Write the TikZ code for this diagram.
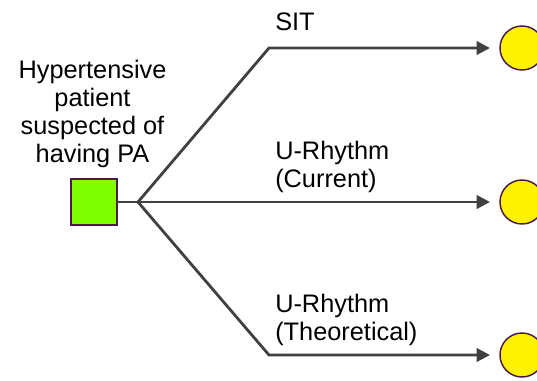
\documentclass[tikz,border=0pt]{standalone}
\usepackage{fontspec}
\setmainfont{Liberation Sans}
\usetikzlibrary{arrows.meta}
\definecolor{edgegray}{HTML}{404040}
\definecolor{boxgreen}{HTML}{80FF00}
\definecolor{rim}{HTML}{4B1A4B}
\begin{document}
\begin{tikzpicture}[x=0.75pt,y=-0.75pt,
  lbl/.style={font=\fontsize{19}{21}\selectfont, inner sep=0pt, align=left},
  decision/.style={draw=rim, line width=1.4pt, fill=boxgreen, minimum size=34.5pt, inner sep=0pt, outer sep=0pt},
  chance/.style={circle, draw=rim, line width=1.1pt, fill=yellow, minimum size=33pt, inner sep=0pt, outer sep=0pt},
  branch/.style={draw=edgegray, line width=2.1pt, line join=miter},
  arr/.style={branch, -{Triangle[length=10pt,width=10pt]}, shorten >=7.5pt}]
\useasboundingbox (0,0) rectangle (537,380);

% decision node and its label
\node[decision] (dec) at (94,202) {};
\node[lbl, align=center, anchor=north] (pt) at (92.5,60) {Hypertensive\\patient\\suspected of\\having PA};

% branch points
\coordinate (fork) at (138,202);
\coordinate (ktop) at (269,48);
\coordinate (kbot) at (269,355);

% chance nodes
\node[chance] (o1) at (522,48) {};
\node[chance] (o2) at (522,202) {};
\node[chance] (o3) at (522,355) {};

% connectors
\draw[branch] (dec.east) -- (fork);
\draw[arr] (fork) -- (ktop) -- (o1.west);
\draw[arr] (fork) -- (o2.west);
\draw[arr] (fork) -- (kbot) -- (o3.west);

% strategy labels
\node[lbl, anchor=north west] (s1) at (275,13) {SIT};
\node[lbl, anchor=north west] (s2) at (275,141) {U-Rhythm\\(Current)};
\node[lbl, anchor=north west] (s3) at (275,294) {U-Rhythm\\(Theoretical)};
\end{tikzpicture}
\end{document}
